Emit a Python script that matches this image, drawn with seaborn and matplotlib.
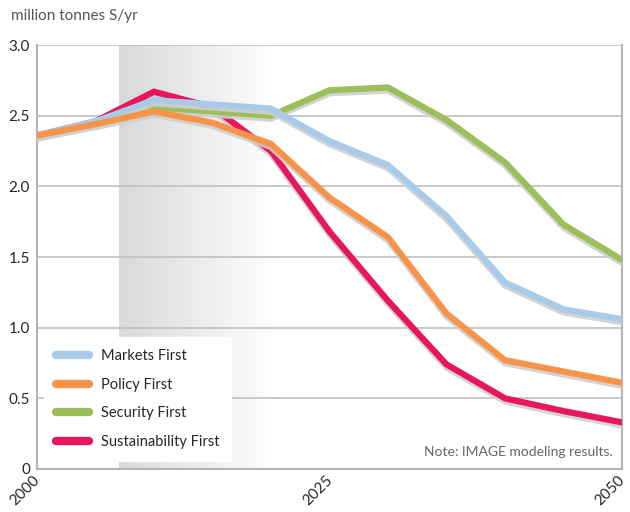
import numpy as np
import pandas as pd
import matplotlib
matplotlib.use("Agg")
import matplotlib.pyplot as plt
import matplotlib.patheffects as pe
import seaborn as sns

years = [2000, 2005, 2010, 2015, 2020, 2025, 2030, 2035, 2040, 2045, 2050]
markets = [2.36, 2.46, 2.61, 2.58, 2.55, 2.32, 2.15, 1.79, 1.32, 1.13, 1.06]
policy = [2.36, 2.44, 2.53, 2.45, 2.30, 1.92, 1.64, 1.10, 0.77, 0.69, 0.61]
security = [2.36, 2.45, 2.56, 2.53, 2.50, 2.68, 2.70, 2.47, 2.17, 1.73, 1.48]
sustain = [2.36, 2.46, 2.67, 2.56, 2.25, 1.68, 1.19, 0.74, 0.50, 0.41, 0.33]

scenarios = ["Markets First", "Policy First", "Security First", "Sustainability First"]
colors = ["#a9cbea", "#f7944a", "#9cbf5b", "#e8175d"]
y_ticks = [0, 0.5, 1.0, 1.5, 2.0, 2.5, 3.0]
y_labels = ["0", "0.5", "1.0", "1.5", "2.0", "2.5", "3.0"]
x_ticks = [2000, 2025, 2050]

df = pd.DataFrame({"year": years * 4,
                   "value": markets + policy + security + sustain,
                   "scenario": sum([[s] * len(years) for s in scenarios], [])})

sns.set_style("white")
plt.rcParams["font.family"] = ["Lato", "DejaVu Sans"]

fig = plt.figure(figsize=(6.3, 5.12), dpi=100)
ax = fig.add_axes([0.0587, 0.084, 0.9286, 0.828])

# gray shaded band fading to white
grad = np.linspace(0, 1, 256).reshape(1, -1)
cmap = matplotlib.colors.LinearSegmentedColormap.from_list("g", ["#d8d9db", "#ffffff"])
ax.imshow(grad, extent=[2007, 2020.5, 0, 3], aspect="auto", cmap=cmap, zorder=0)

sns.lineplot(data=df, x="year", y="value", hue="scenario", hue_order=scenarios,
             palette=colors, linewidth=4.5, ax=ax, zorder=3)

zorders = [5, 6, 4, 3]
for line, z in zip(ax.lines, zorders):
    line.set_zorder(z)
    line.set_solid_joinstyle("miter")
    line.set_path_effects([pe.SimpleLineShadow(offset=(0, -2.2), shadow_color="#cfcfcf", alpha=0.9),
                           pe.Normal()])

ax.set_xlim(2000, 2050)
ax.set_ylim(0, 3.0)
ax.set_yticks(y_ticks)
ax.set_yticklabels(y_labels, fontsize=11)
ax.set_xticks(x_ticks)
ax.set_xticklabels([])
# rotated year labels, nudged left so the last one stays inside the figure
for x in x_ticks:
    ax.annotate(str(x), (x, 0), xycoords=("data", "axes fraction"),
                xytext=(-3, -3), textcoords="offset points", fontsize=11,
                rotation=45, ha="right", va="top", rotation_mode="anchor",
                annotation_clip=False)
ax.tick_params(axis="y", length=0, pad=5)
ax.tick_params(axis="x", length=0, pad=2)
ax.yaxis.grid(True, color="#c0c0c0", linewidth=1.2)
ax.set_axisbelow(True)
for side in ["left", "bottom", "right"]:
    ax.spines[side].set_color("#b5b5b5")
    ax.spines[side].set_linewidth(1.5)
ax.spines["top"].set_visible(False)
ax.set_xlabel("")
ax.set_ylabel("")

fig.text(0.017, 0.968, "million tonnes S/yr", fontsize=11, color="#555555", va="center")
ax.text(0.985, 0.04, "Note: IMAGE modeling results.", transform=ax.transAxes,
        ha="right", va="center", fontsize=10, color="#666666")

leg = ax.legend(loc="lower left", bbox_to_anchor=(0.012, 0.02), frameon=True,
                fancybox=False, fontsize=10.5, handlelength=2.3, labelspacing=1.0,
                borderpad=0.8, handletextpad=0.8, borderaxespad=0)
leg.get_frame().set_edgecolor("white")
leg.get_frame().set_facecolor("white")
leg.get_frame().set_alpha(1)
for h in leg.get_lines():
    h.set_linewidth(6)
    h.set_path_effects([])
leg.set_zorder(10)

fig.savefig("out.png", dpi=100)
